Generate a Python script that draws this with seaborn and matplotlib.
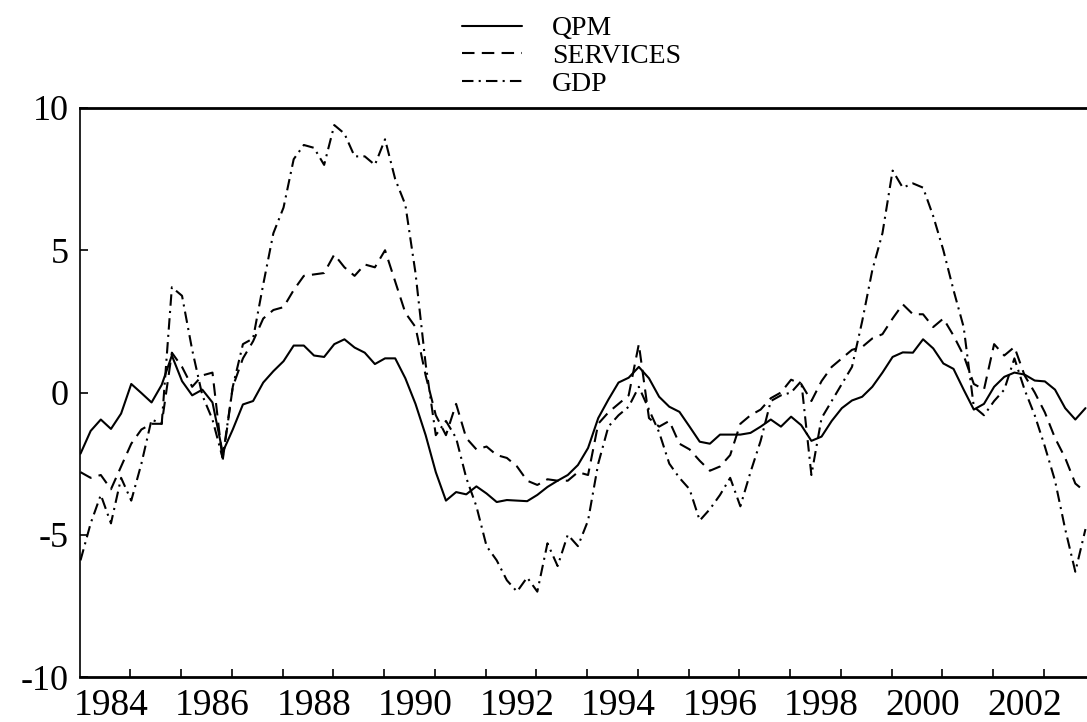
import numpy as np
import matplotlib
matplotlib.use("Agg")
import matplotlib.pyplot as plt
import seaborn as sns

# time axis: 0.2-year steps
years = np.round(1983.4 + 0.2 * np.arange(100), 1)

qpm = [-2.15, -1.35, -0.95, -1.28, -0.74, 0.30, -0.02, -0.35, 0.27, 1.30,
       0.40, -0.10, 0.10, -0.35, -2.10, -1.30, -0.42, -0.30, 0.35, 0.75,
       1.10, 1.65, 1.65, 1.30, 1.25, 1.70, 1.87, 1.58, 1.40, 1.00,
       1.20, 1.20, 0.50, -0.40, -1.50, -2.80, -3.80, -3.50, -3.58, -3.30,
       -3.55, -3.85, -3.78, -3.80, -3.82, -3.60, -3.32, -3.10, -2.90, -2.55,
       -1.95, -0.90, -0.25, 0.35, 0.52, 0.90, 0.50, -0.15, -0.50, -0.68,
       -1.20, -1.73, -1.80, -1.48, -1.48, -1.48, -1.42, -1.20, -0.95, -1.20,
       -0.85, -1.15, -1.70, -1.55, -1.00, -0.55, -0.28, -0.15, 0.20, 0.70,
       1.25, 1.41, 1.40, 1.87, 1.55, 1.02, 0.83, 0.10, -0.60, -0.40,
       0.20, 0.55, 0.70, 0.63, 0.42, 0.39, 0.10, -0.55, -0.95, -0.55]

services = [-2.8, -3.0, -2.9, -3.4, -2.6, -1.8, -1.3, -1.1, -1.1, 1.4,
            0.9, 0.2, 0.6, 0.7, -2.4, 0.2, 1.2, 1.8, 2.6, 2.9,
            3.0, 3.6, 4.1, 4.15, 4.2, 4.85, 4.4, 4.1, 4.5, 4.4,
            5.0, 3.9, 2.8, 2.3, 0.6, -0.8, -1.5, -0.4, -1.6, -2.0,
            -1.9, -2.2, -2.3, -2.6, -3.1, -3.25, -3.05, -3.1, -3.1, -2.8,
            -2.9, -1.1, -0.7, -0.4, -0.1, 1.7, -0.9, -1.2, -1.0, -1.8,
            -2.0, -2.4, -2.75, -2.6, -2.2, -1.1, -0.8, -0.6, -0.2, 0.0,
            0.45, 0.3, -0.3, 0.4, 0.9, 1.2, 1.5, 1.6, 1.9, 2.05,
            2.6, 3.1, 2.75, 2.75, 2.3, 2.6, 2.0, 1.3, 0.3, 0.1,
            1.7, 1.3, 1.6, 0.6, 0.0, -0.7, -1.6, -2.3, -3.2, -3.5]

gdp = [-5.9, -4.6, -3.6, -4.6, -3.0, -3.8, -2.5, -0.95, -1.1, 3.7,
       3.4, 1.5, -0.1, -0.95, -2.3, 0.2, 1.7, 1.9, 3.8, 5.6,
       6.5, 8.2, 8.7, 8.6, 8.0, 9.4, 9.1, 8.3, 8.3, 8.0,
       8.9, 7.5, 6.6, 4.2, 1.0, -1.5, -1.0, -1.6, -3.0, -4.0,
       -5.4, -5.9, -6.6, -7.0, -6.5, -7.0, -5.3, -6.1, -5.0, -5.4,
       -4.5, -2.5, -1.2, -0.8, -0.5, 0.2, -0.6, -1.4, -2.5, -3.0,
       -3.4, -4.5, -4.1, -3.6, -3.0, -4.0, -2.8, -1.7, -0.3, -0.1,
       0.0, 0.4, -2.9, -0.9, -0.3, 0.3, 0.9, 2.5, 4.3, 5.6,
       7.8, 7.2, 7.35, 7.2, 6.2, 5.0, 3.6, 2.3, -0.5, -0.8,
       -0.3, 0.1, 1.2, 0.1, -0.8, -1.9, -3.1, -4.8, -6.3, -4.8]

label_years = np.arange(1984, 2003, 2)
tick_years = 1984.38 + np.arange(19)

sns.set_style("ticks", {"axes.edgecolor": "black", "text.color": "black",
                        "xtick.color": "black", "ytick.color": "black"})
plt.rcParams["font.family"] = ["Liberation Serif", "DejaVu Serif"]

fig = plt.figure(figsize=(10.87, 7.22), dpi=100)
ax = fig.add_axes([80 / 1087, 45 / 722, 1007 / 1087, 569 / 722])

sns.lineplot(x=years, y=qpm, ax=ax, color="black", linewidth=1.5,
             label="QPM", sort=False, estimator=None)
sns.lineplot(x=years, y=services, ax=ax, color="black", linewidth=1.5,
             linestyle=(0, (6, 3.5)), label="SERVICES", sort=False, estimator=None)
sns.lineplot(x=years, y=gdp, ax=ax, color="black", linewidth=1.5,
             linestyle=(0, (5.5, 2.5, 1, 2.5)), label="GDP", sort=False, estimator=None)

ax.set_xlim(1983.39, 2003.23)
ax.set_ylim(-10, 10)
ax.set_yticks([-10, -5, 0, 5, 10])
ax.set_yticklabels(["-10", "-5", "0", "5", "10"])
ax.set_xticks(label_years)
ax.set_xticklabels([str(y) for y in label_years])
ax.set_xticks(tick_years, minor=True)
ax.tick_params(axis="x", which="major", length=0, labelsize=27, pad=8)
ax.tick_params(axis="x", which="minor", direction="in", length=6, width=1.2)
ax.tick_params(axis="y", direction="in", length=6, width=1.2, labelsize=26, pad=8)
ax.set_xlabel("")
ax.set_ylabel("")
ax.spines["right"].set_visible(False)
ax.spines["top"].set_linewidth(2)
ax.spines["bottom"].set_linewidth(2)
ax.spines["left"].set_linewidth(1.2)

handles, labels = ax.get_legend_handles_labels()
ax.get_legend().remove()
fig.legend(handles, labels, loc="upper left", bbox_to_anchor=(462 / 1087, 0.978),
           frameon=False, fontsize=20, handlelength=2.16, handletextpad=1.08,
           labelspacing=0.08, borderpad=0, borderaxespad=0)

fig.savefig("out.png", dpi=100)
